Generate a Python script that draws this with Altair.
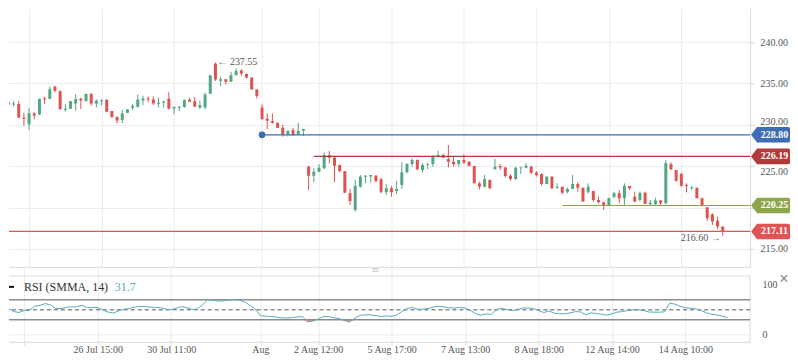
import altair as alt
import pandas as pd

# ---------------- data ----------------
opens = [232.75, 232.47, 232.51, 230.86, 230.06, 231.39, 231.26, 233.20, 233.12, 234.61,
         234.08, 231.79, 231.95, 232.59, 233.16, 232.87, 233.76, 232.59, 232.87, 233.04,
         231.67, 230.94, 230.58, 231.46, 232.07, 232.19, 232.96, 233.20, 233.08, 232.55,
         232.71, 233.16, 231.99, 232.07, 232.15, 233.04, 232.87, 232.11, 232.11, 233.76,
         237.40, 235.33, 235.53, 235.21, 236.01, 236.58, 236.14, 235.73, 234.28, 232.11,
         230.74, 230.46, 230.26, 229.65, 228.85, 229.37, 228.85, 229.29, 224.94, 223.85,
         224.34, 224.74, 226.35, 226.03, 225.14, 224.42, 221.72, 219.71, 222.53, 223.73,
         223.77, 223.85, 223.41, 221.84, 222.33, 222.00, 222.73, 224.26, 225.26, 225.75,
         224.54, 225.19, 225.26, 226.23, 226.35, 225.87, 225.55, 225.26, 225.75, 225.55,
         225.03, 222.93, 222.53, 223.33, 224.62, 225.02, 224.86, 223.86, 223.45, 224.74,
         224.82, 224.94, 224.22, 224.06, 222.85, 223.74, 222.41, 222.53, 221.92, 222.25,
         222.85, 222.41, 221.92, 222.00, 220.92, 220.64, 220.31, 221.32, 221.72, 221.12,
         222.61, 221.32, 220.92, 221.80, 220.39, 220.43, 220.84, 220.52, 225.27, 224.54,
         224.06, 222.73, 222.33, 222.41, 221.12, 220.03, 219.19, 218.42, 217.70]
highs = [233.20, 232.87, 232.91, 231.46, 232.03, 231.55, 233.20, 233.40, 234.65, 234.73,
         234.20, 232.51, 232.87, 233.72, 233.32, 233.80, 233.80, 233.08, 233.08, 233.12,
         231.67, 231.06, 231.79, 231.91, 232.51, 233.68, 233.52, 233.44, 233.44, 233.32,
         232.87, 233.96, 232.19, 232.27, 233.08, 233.28, 233.36, 232.91, 233.88, 236.01,
         237.55, 235.81, 235.53, 236.42, 236.82, 236.74, 236.22, 235.73, 234.30, 232.47,
         231.38, 231.38, 230.26, 230.06, 229.37, 229.65, 230.26, 229.49, 225.06, 224.74,
         225.23, 226.67, 226.84, 226.27, 225.23, 224.42, 222.25, 223.33, 223.93, 223.93,
         223.93, 223.93, 223.61, 222.81, 222.61, 223.21, 225.47, 225.35, 225.95, 225.83,
         225.35, 225.43, 226.35, 226.88, 226.55, 227.56, 226.15, 225.75, 226.43, 225.63,
         225.03, 223.13, 223.94, 223.41, 225.87, 225.26, 224.94, 224.02, 224.94, 224.94,
         225.35, 225.06, 224.42, 224.14, 223.82, 223.82, 222.93, 222.53, 222.41, 223.94,
         223.05, 222.41, 222.93, 222.00, 221.32, 220.72, 221.20, 221.92, 222.12, 222.93,
         222.61, 221.92, 221.92, 221.92, 220.92, 221.20, 220.92, 225.75, 225.47, 224.54,
         224.22, 222.93, 222.61, 222.41, 221.20, 220.03, 219.31, 218.90, 217.70]
lows = [232.19, 232.19, 230.86, 229.89, 229.37, 230.66, 231.18, 232.51, 233.12, 233.92,
        231.79, 231.59, 231.95, 231.71, 231.91, 232.87, 232.31, 232.11, 232.35, 231.51,
        230.86, 230.18, 230.22, 231.42, 231.79, 232.07, 232.39, 232.71, 232.39, 232.11,
        232.07, 231.87, 231.26, 231.67, 232.07, 232.79, 232.19, 231.91, 231.87, 233.76,
        235.30, 234.69, 234.89, 235.21, 236.01, 235.94, 235.61, 234.28, 233.20, 230.58,
        229.49, 230.14, 229.61, 228.57, 228.57, 228.65, 228.81, 228.69, 222.12, 223.05,
        224.26, 224.66, 225.35, 223.05, 224.26, 221.80, 220.30, 219.51, 222.41, 222.93,
        223.05, 223.05, 221.72, 221.52, 221.32, 221.64, 222.25, 224.14, 224.94, 224.54,
        224.26, 224.62, 224.94, 226.15, 225.95, 224.86, 224.94, 224.94, 225.26, 225.03,
        222.93, 222.20, 222.45, 222.25, 224.62, 224.54, 223.61, 223.25, 223.33, 224.06,
        224.74, 224.06, 223.74, 222.65, 222.85, 222.25, 222.25, 221.60, 221.72, 222.25,
        221.92, 220.72, 221.64, 220.72, 220.52, 219.71, 220.31, 221.12, 220.52, 220.31,
        222.12, 220.60, 220.72, 220.43, 220.19, 220.31, 220.31, 220.39, 224.54, 223.13,
        222.53, 221.84, 222.12, 221.12, 220.12, 218.38, 217.90, 217.42, 216.60]
closes = [232.43, 232.59, 230.86, 230.70, 231.42, 231.14, 233.12, 233.08, 234.32, 234.12,
          231.91, 231.95, 232.87, 233.12, 232.96, 233.72, 232.59, 232.91, 232.99, 231.59,
          230.94, 230.54, 231.39, 231.87, 232.31, 233.08, 233.20, 233.08, 232.59, 232.67,
          232.87, 231.95, 232.19, 232.19, 232.99, 232.79, 232.19, 232.39, 233.68, 236.01,
          235.50, 235.53, 235.21, 236.01, 236.50, 236.22, 235.73, 234.28, 233.50, 230.70,
          230.50, 230.26, 229.65, 228.85, 229.25, 228.85, 229.29, 229.49, 223.85, 224.34,
          224.82, 226.35, 226.03, 225.06, 224.42, 221.80, 220.80, 222.65, 223.73, 223.85,
          223.93, 223.21, 221.92, 222.33, 221.84, 222.25, 224.26, 225.26, 225.75, 224.62,
          225.14, 225.26, 226.23, 226.35, 226.03, 225.55, 225.26, 225.75, 225.43, 225.03,
          222.93, 222.53, 223.41, 222.33, 224.94, 224.86, 223.82, 223.45, 224.82, 224.86,
          225.06, 224.22, 223.94, 222.85, 223.74, 222.33, 222.53, 221.80, 222.25, 222.85,
          222.41, 220.72, 222.53, 220.92, 220.64, 220.31, 221.12, 221.72, 221.12, 222.65,
          222.33, 220.72, 221.80, 220.43, 220.60, 220.84, 220.52, 225.35, 224.62, 223.25,
          222.65, 222.61, 222.45, 221.12, 220.31, 218.70, 218.30, 217.70, 217.11]
rsi_values = [54, 52.5, 46.5, 44.7, 48.7, 49.3, 57.3, 58.9, 62.5, 60,
              52.7, 52.5, 55, 56, 56, 59, 54.3, 55, 54.5, 49.5,
              45.3, 43.5, 48.2, 51.3, 52.3, 55.2, 57, 56.5, 55.3, 54.8,
              54.3, 51, 50.7, 53, 56.8, 54.3, 50.8, 51.7, 60, 70.5,
              69, 67.4, 68, 70, 70.7, 69.2, 66, 59, 52, 38.2,
              37.5, 36.5, 35.6, 34, 33.7, 34.4, 35.8, 36.4, 26, 27.5,
              31.5, 36.8, 36.7, 34, 32.6, 28.5, 25.8, 33.5, 39, 40,
              40, 38.6, 36.6, 38, 36.8, 39.6, 47, 53, 54.5, 51,
              51.5, 52.7, 56, 57, 56, 54.2, 53.5, 54.6, 53.8, 49,
              42.5, 39.3, 41.8, 40.8, 51, 53, 50.6, 48.4, 50.8, 53.5,
              53.8, 52.9, 48.5, 44.6, 47.8, 43.2, 42.2, 42, 43.7, 46.4,
              46, 40.2, 44, 42.4, 41.2, 39.4, 41.9, 45.5, 46.5, 48.6,
              49.8, 49.9, 48.7, 45.7, 45.3, 45.3, 46, 63.5, 61.4, 57,
              54.3, 53.2, 52.2, 48.5, 44.3, 41, 40, 37.3, 34]

tick_idx = [4, 18, 32, 49, 60, 74, 88, 102, 116, 130]
tick_lbl = ["", "26 Jul 15:00", "30 Jul 11:00", "Aug", "2 Aug 12:00", "5 Aug 17:00",
            "7 Aug 13:00", "8 Aug 18:00", "12 Aug 14:00", "14 Aug 10:00"]
price_ticks = [215, 220, 225, 230, 235, 240]
hidden_price_labels = [220]   # fully covered by a price tag in the reference
raised_price_labels = [230]   # partly covered: keep the visible part above the tag
lowered_price_labels = [225]  # partly covered: keep the visible part below the tag

level_names = ["228.80", "226.19", "220.25", "217.11"]
level_values = [228.80, 226.19, 220.25, 217.11]
level_start = [49, 59, 107, 0]

ann_idx = [40, 138]
ann_price = [237.55, 216.60]

rsi_title = "RSI (SMMA, 14)"
rsi_last = "31.7"

# ---------------- styles ----------------
GREEN = "#53a782"
RED = "#e0524f"
level_colors = ["#3d6db3", "#b23a3a", "#8ba64b", "#e05454"]
GRID = "#e9ecf0"
BORDER = "#d6dade"
SERIF = "Liberation Serif"
TEAL = "#5aa8c4"

W = 742
H_MAIN = 259
H_RSI = 75

n = len(opens)
candles = pd.DataFrame({
    "idx": list(range(n)), "o": opens, "h": highs, "l": lows, "c": closes,
})
candles["dir"] = ["up" if c >= o else "down" for o, c in zip(opens, closes)]
levels = pd.DataFrame({"name": level_names, "value": level_values, "start": level_start})
rsi_df = pd.DataFrame({"idx": list(range(len(rsi_values))), "rsi": rsi_values})

x_scale = alt.Scale(domain=[1.085, 142.31], nice=False, zero=False)
y_scale = alt.Scale(domain=[212.826, 244.106], nice=False, zero=False)
r_scale = alt.Scale(domain=[-14, 136], nice=False, zero=False)

dir_color = alt.Color("dir:N", scale=alt.Scale(domain=["up", "down"], range=[GREEN, RED]), legend=None)
lvl_color = alt.Color("name:N", scale=alt.Scale(domain=level_names, range=level_colors), legend=None)


def any_of(vals):
    return " || ".join(f"datum.value == {v}" for v in vals)


main_x_axis = alt.Axis(values=tick_idx, labels=False, ticks=False, grid=True, gridColor=GRID,
                       domain=True, domainColor=BORDER, title=None)
main_y_axis = alt.Axis(
    orient="right", values=price_ticks, grid=True, gridColor=GRID,
    labelExpr=f"({any_of(hidden_price_labels)}) ? '' : format(datum.value, '.2f')",
    labelBaseline={"condition": [{"test": any_of(raised_price_labels), "value": "alphabetic"},
                                 {"test": any_of(lowered_price_labels), "value": "top"}],
                   "value": "middle"},
    domainColor=BORDER, tickColor=BORDER, tickSize=4, labelPadding=6,
    labelFont=SERIF, labelFontSize=10, labelColor="#555", title=None)

wicks = alt.Chart(candles).mark_rule(strokeWidth=1, clip=True).encode(
    x=alt.X("idx:Q", scale=x_scale, axis=main_x_axis),
    y=alt.Y("l:Q", scale=y_scale, axis=main_y_axis),
    y2="h:Q",
    color=dir_color,
)
bodies = alt.Chart(candles).mark_bar(size=3, clip=True).encode(
    x=alt.X("idx:Q", scale=x_scale),
    y=alt.Y("o:Q", scale=y_scale),
    y2="c:Q",
    color=dir_color,
)
level_lines = alt.Chart(levels).mark_rule(strokeWidth=1.2, clip=True).encode(
    x=alt.X("start:Q", scale=x_scale),
    x2=alt.value(W),
    y=alt.Y("value:Q", scale=y_scale),
    color=lvl_color,
)
dot = alt.Chart(levels).transform_filter(f"datum.name == '{level_names[0]}'").mark_point(
    filled=True, size=45, opacity=1, color=level_colors[0]
).encode(x=alt.X("start:Q", scale=x_scale), y=alt.Y("value:Q", scale=y_scale))

# price tag: pointed on the left, slightly rounded on the right
TAG = "M-2.5,0 L-1.73,-1 L2.3,-1 Q2.5,-1 2.5,-0.8 L2.5,0.8 Q2.5,1 2.3,1 L-1.73,1 Z"
tags = alt.Chart(levels).mark_point(shape=TAG, filled=True, size=243, opacity=1, strokeWidth=0).encode(
    x=alt.value(762.5), y=alt.Y("value:Q", scale=y_scale), color=lvl_color,
)
tag_text = alt.Chart(levels).mark_text(font=SERIF, fontSize=10, fontWeight="bold", color="white",
                                       baseline="middle").encode(
    x=alt.value(766.5), y=alt.Y("value:Q", scale=y_scale), text="name:N",
)
ann = pd.DataFrame({"idx": ann_idx, "price": ann_price})
ann_hi = alt.Chart(ann).transform_filter("datum.idx == %d" % ann_idx[0]).transform_calculate(
    label="'\u2190 ' + format(datum.price, '.2f')"
).mark_text(align="left", baseline="middle", dx=2, font=SERIF, fontSize=10, color="#555").encode(
    x=alt.X("idx:Q", scale=x_scale), y=alt.Y("price:Q", scale=y_scale), text="label:N")
ann_lo = alt.Chart(ann).transform_filter("datum.idx == %d" % ann_idx[1]).transform_calculate(
    label="format(datum.price, '.2f') + ' \u2192'"
).mark_text(align="right", baseline="middle", dx=-2, dy=2, font=SERIF, fontSize=10, color="#555").encode(
    x=alt.X("idx:Q", scale=x_scale), y=alt.Y("price:Q", scale=y_scale), text="label:N")

main = alt.layer(wicks, bodies, level_lines, dot, tags, tag_text, ann_hi, ann_lo).resolve_scale(
    color="independent").properties(width=W, height=H_MAIN)

# ---------------- RSI panel ----------------
label_expr = " : ".join(f"datum.value == {i} ? '{l}'" for i, l in zip(tick_idx, tick_lbl)) + " : ''"
rsi_x_axis = alt.Axis(values=tick_idx, grid=True, gridColor=GRID, domainColor=BORDER, tickColor=BORDER,
                      tickSize=3, labelPadding=0, labelExpr=label_expr, labelFont=SERIF, labelFontSize=10,
                      labelOverlap=False, title=None,
                      labelColor={"condition": {"test": "datum.label == 'Aug'", "value": "#111"}, "value": "#555"},
                      labelFontWeight={"condition": {"test": "datum.label == 'Aug'", "value": "bold"},
                                       "value": "normal"})
rsi_y_axis = alt.Axis(orient="right", values=[0, 100], grid=False, domain=False, tickSize=4, tickOpacity=0,
                      labelPadding=8, labelFont=SERIF, labelFontSize=10, labelColor="#555", title=None)

one = alt.Data(values=[{}])
guide_top = alt.Chart(one).mark_rule(color=BORDER, strokeWidth=1).encode(y=alt.datum(118, scale=r_scale))
guide_zero = alt.Chart(one).mark_rule(color=GRID, strokeWidth=1).encode(y=alt.datum(0, scale=r_scale))
border_r = alt.Chart(one).mark_rule(color=BORDER, strokeWidth=1).encode(
    x=alt.value(W), y=alt.datum(118, scale=r_scale), y2=alt.datum(-14))
band_70 = alt.Chart(one).mark_rule(color="#555", strokeWidth=1).encode(y=alt.datum(70, scale=r_scale))
band_30 = alt.Chart(one).mark_rule(color="#555", strokeWidth=1).encode(y=alt.datum(30, scale=r_scale))
band_50 = alt.Chart(one).mark_rule(color="#555", strokeWidth=1, strokeDash=[4, 3]).encode(
    y=alt.datum(50, scale=r_scale))

fill = alt.Chart(rsi_df).transform_calculate(lo="min(datum.rsi, 30)", top="30").mark_area(
    color="#e57f7b", opacity=0.9, clip=True).encode(
    x=alt.X("idx:Q", scale=x_scale), y=alt.Y("lo:Q", scale=r_scale), y2="top:Q")
rsi_line = alt.Chart(rsi_df).mark_line(color=TEAL, strokeWidth=1, clip=True).encode(
    x=alt.X("idx:Q", scale=x_scale, axis=rsi_x_axis),
    y=alt.Y("rsi:Q", scale=r_scale, axis=rsi_y_axis),
)
dash = alt.Chart(one).mark_rule(color="#111", strokeWidth=2).encode(
    x=alt.value(0), x2=alt.value(5), y=alt.value(20))
title_txt = alt.Chart(one).mark_text(align="left", baseline="middle", font=SERIF, fontSize=12,
                                     color="#333").encode(
    x=alt.value(15), y=alt.value(20), text=alt.value(rsi_title))
value_txt = alt.Chart(one).mark_text(align="left", baseline="middle", font=SERIF, fontSize=12,
                                     color=TEAL).encode(
    x=alt.value(106), y=alt.value(20), text=alt.value(rsi_last))
close_txt = alt.Chart(one).mark_text(align="center", baseline="middle", font="Liberation Sans", fontSize=16,
                                     color="#888").encode(
    x=alt.value(776), y=alt.value(12), text=alt.value("\u00d7"))
handle_txt = alt.Chart(one).mark_text(align="center", baseline="middle", font="DejaVu Sans", fontSize=10,
                                      color="#cfcfcf").encode(
    x=alt.value(367), y=alt.value(3), text=alt.value("\u2261"))

rsi_chart = alt.layer(guide_top, guide_zero, border_r, band_70, band_30, band_50, fill, rsi_line,
                      dash, title_txt, value_txt, close_txt, handle_txt).properties(width=W, height=H_RSI)

chart = alt.vconcat(main, rsi_chart, spacing=0, bounds="flush").properties(
    padding=0, background="white"
).configure_view(stroke=None)

chart.save("out.html", embed_options={"renderer": "svg", "actions": False})
